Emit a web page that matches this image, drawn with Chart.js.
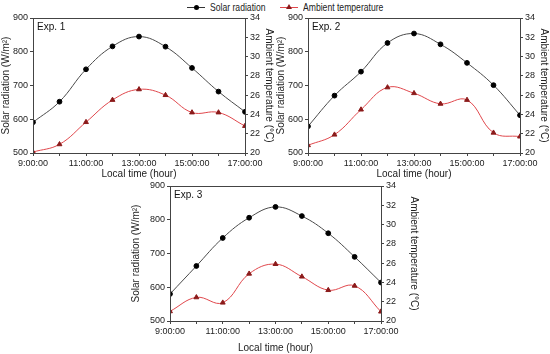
<!DOCTYPE html>
<html>
<head>
<meta charset="utf-8">
<script src="https://cdn.jsdelivr.net/npm/chart.js@4/dist/chart.umd.min.js"></script>
<style>
  body { margin: 0; background: #fff; }
  #wrap { position: relative; width: 550px; height: 354px; overflow: hidden; font-family: "Liberation Sans", Arial, sans-serif; }
  .box { position: absolute; }
  .legend { position: absolute; top: 1px; font-size: 10.5px; color: #222; line-height: 12px; white-space: nowrap; }
  .legend .line { position: absolute; top: 6px; width: 18px; height: 1px; }
  .legend .dot { position: absolute; top: 4px; left: 7px; width: 5px; height: 5px; border-radius: 50%; background: #000; }
  .legend .tri { position: absolute; top: 3px; left: 6px; width: 0; height: 0; border-left: 3px solid transparent; border-right: 3px solid transparent; border-bottom: 5px solid #8b1a1a; }
  .legend .txt { position: absolute; left: 23px; top: 0; transform: scaleX(0.82); transform-origin: 0 0; }
</style>
</head>
<body>
<div id="wrap">
  <div class="legend" style="left:187px;">
    <span class="line" style="left:0;background:#333;"></span><span class="dot"></span>
    <span class="txt">Solar radiation</span>
  </div>
  <div class="legend" style="left:280px;">
    <span class="line" style="left:0;background:#e0474c;"></span><span class="tri"></span>
    <span class="txt">Ambient temperature</span>
  </div>
  <div class="box" style="left:0;top:0;width:275px;height:180px;"><canvas id="c1"></canvas></div>
  <div class="box" style="left:275px;top:0;width:275px;height:180px;"><canvas id="c2"></canvas></div>
  <div class="box" style="left:130px;top:170px;width:290px;height:184px;"><canvas id="c3"></canvas></div>
</div>
<script>
const hours = [9, 10, 11, 12, 13, 14, 15, 16, 17];

const exp1Radiation = [591, 652, 748, 816, 845, 815, 752, 682, 622];
const exp1Temperature = [20.1, 20.9, 23.2, 25.5, 26.6, 26.0, 24.2, 24.2, 22.8];

const exp2Radiation = [579, 670, 741, 826, 854, 822, 767, 701, 612];
const exp2Temperature = [20.8, 21.9, 24.5, 26.8, 26.2, 25.1, 25.5, 22.1, 21.7];

const exp3Radiation = [580, 663, 746, 806, 838, 811, 760, 690, 614];
const exp3Temperature = [21.0, 22.45, 21.9, 24.9, 25.9, 24.6, 23.2, 23.65, 20.97];

const radiationTicks = [500, 600, 700, 800, 900];
const temperatureTicks = [20, 22, 24, 26, 28, 30, 32, 34];

const FONT = '"Liberation Sans", Arial, sans-serif';
Chart.defaults.font.family = FONT;
Chart.defaults.color = '#222';

function pairs(values) {
  return values.map(function(v, i) { return { x: hours[i], y: v }; });
}

// frame round the plot area and the "Exp. n" label
const framePlugin = {
  id: 'frame',
  afterDraw: function(chart, args, opts) {
    const a = chart.chartArea;
    const ctx = chart.ctx;
    ctx.save();
    ctx.strokeStyle = '#444';
    ctx.lineWidth = 1;
    ctx.strokeRect(Math.round(a.left) + 0.5, Math.round(a.top) + 0.5, Math.round(a.right - a.left), Math.round(a.bottom - a.top));
    ctx.fillStyle = '#111';
    ctx.font = '10px ' + FONT;
    ctx.textBaseline = 'top';
    ctx.fillText(opts.label, a.left + 4, a.top + 4);
    ctx.restore();
  }
};

function makeChart(id, label, radiation, temperature, dims) {
  const ctx = document.getElementById(id).getContext('2d');
  return new Chart(ctx, {
    type: 'line',
    data: {
      datasets: [{
        label: 'Solar radiation',
        data: pairs(radiation),
        yAxisID: 'y',
        borderColor: '#4a4a4a',
        borderWidth: 1,
        pointBackgroundColor: '#000',
        pointBorderColor: '#000',
        pointRadius: 2.4,
        pointStyle: 'circle',
        tension: 0.4,
      }, {
        label: 'Ambient temperature',
        data: pairs(temperature),
        yAxisID: 'y1',
        borderColor: '#e0474c',
        borderWidth: 1,
        pointBackgroundColor: '#8b1a1a',
        pointBorderColor: '#8b1a1a',
        pointRadius: 2.8,
        pointStyle: 'triangle',
        tension: 0.4,
      }],
    },
    options: {
      responsive: true,
      maintainAspectRatio: false,
      animation: false,
      layout: { padding: { top: dims.top, left: 0, right: 0, bottom: 0 } },
      plugins: {
        legend: { display: false },
        tooltip: { enabled: false },
        frame: { label: label },
      },
      scales: {
        x: {
          type: 'linear',
          min: 9,
          max: 17,
          grid: { display: true, drawOnChartArea: false, tickLength: 3, color: '#444' },
          border: { display: false },
          ticks: {
            stepSize: 1,
            autoSkip: false,
            maxRotation: 0,
            padding: 2,
            font: { size: 9 },
            callback: function(v) { return v % 2 === 1 ? v + ':00:00' : ''; },
          },
          title: { display: true, text: 'Local time (hour)', font: { size: 10 }, padding: { top: 1, bottom: 0 } },
          afterFit: function(s) { s.height = dims.xh; },
        },
        y: {
          position: 'left',
          min: 500,
          max: 900,
          grid: { display: true, drawOnChartArea: false, tickLength: 3, color: '#444' },
          border: { display: false },
          afterBuildTicks: function(s) { s.ticks = radiationTicks.map(function(v) { return { value: v }; }); },
          ticks: { font: { size: 9 }, padding: 2 },
          title: { display: true, text: 'Solar radiation (W/m\u00b2)', font: { size: 10 }, padding: { top: 0, bottom: 0 } },
          afterFit: function(s) { s.width = dims.left; },
        },
        y1: {
          position: 'right',
          min: 20,
          max: 34,
          grid: { display: true, drawOnChartArea: false, tickLength: 3, color: '#444' },
          border: { display: false },
          afterBuildTicks: function(s) { s.ticks = temperatureTicks.map(function(v) { return { value: v }; }); },
          ticks: { font: { size: 9 }, padding: 2 },
          title: { display: true, text: 'Ambient temperature (\u00b0C)', font: { size: 10 }, padding: { top: 0, bottom: 0 } },
          afterFit: function(s) { s.width = dims.right; },
        },
      },
    },
    plugins: [framePlugin],
  });
}

makeChart('c1', 'Exp. 1', exp1Radiation, exp1Temperature, { top: 18, left: 33, right: 30, xh: 27 });
makeChart('c2', 'Exp. 2', exp2Radiation, exp2Temperature, { top: 18, left: 33, right: 30, xh: 27 });
makeChart('c3', 'Exp. 3', exp3Radiation, exp3Temperature, { top: 16, left: 40, right: 39, xh: 33 });
</script>
</body>
</html>
